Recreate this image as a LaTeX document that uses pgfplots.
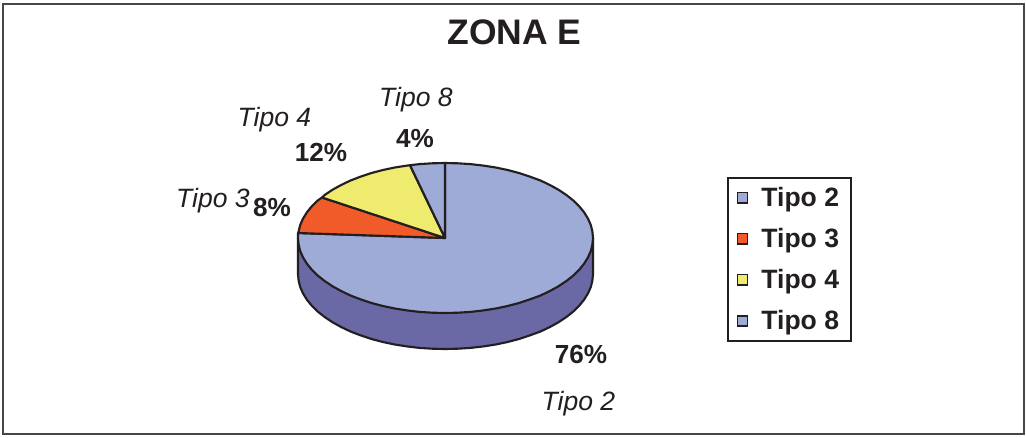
\documentclass[border=0pt]{standalone}
\usepackage{pgfplots}
\pgfplotsset{compat=1.18}
\usepackage{fontspec}
\setmainfont{Liberation Sans}
\definecolor{ink}{HTML}{231F20}
\definecolor{pblue}{HTML}{9DABD6}
\definecolor{pside}{HTML}{6A69A6}
\definecolor{porange}{HTML}{F15A29}
\definecolor{pyellow}{HTML}{EEEB6F}
\begin{document}
\begin{tikzpicture}
\begin{axis}[
  scale only axis, width=769.5pt, height=327.75pt,
  xmin=0, xmax=1026, ymin=0, ymax=437, y dir=reverse,
  axis lines=none, clip=false,
  legend style={at={(axis cs:727,176.5)}, anchor=north west, draw=ink, line width=1.5pt,
    font=\fontsize{19.9pt}{22pt}\selectfont\bfseries, text=ink, legend cell align=left,
    row sep=10.9pt, inner xsep=7pt, inner ysep=5.2pt, fill=white,
    /tikz/every odd column/.append style={column sep=8.25pt}},
]
% background and frame
\addplot[draw=none, fill=white, forget plot] coordinates {(0,0)(1026,0)(1026,437)(0,437)} --cycle;
\addplot[draw=black!72, line width=1.9pt, forget plot] coordinates {(3,4)(1024,4)(1024,434)(3,434)} --cycle;
% side wall
\addplot[draw=ink, fill=pside, line width=1.6pt, line join=round, forget plot] coordinates {
(593,238)(593,274)(592.4,280.5)(590.8,287)(588,293.4)(584.1,299.7)(579.2,305.7)(573.3,311.5)(566.4,317)(558.6,322.2)(549.9,327)(540.5,331.5)(529.8,335.4)(519,339)(507.6,342)(495.8,344.5)(483.5,346.4)(470.5,347.9)(457.8,348.7)(445,349)
(432.2,348.7)(419.5,347.9)(407,346.4)(394.7,344.5)(382.9,342)(371.5,339)(360.7,335.4)(350.5,331.5)(341.1,327)(332.4,322.2)(324.6,317)(317.7,311.5)(311.8,305.7)(306.9,299.7)(303,293.4)(300.2,287)(298.6,280.5)(298,274)(298,238)
} --cycle;
% Tipo 2, 76 %
\addplot[draw=ink, fill=pblue, line width=1.6pt, line join=round, forget plot] coordinates {
(445,238)(445,163)(457.8,163.3)(470.5,164.1)(483.5,165.6)(495.8,167.5)(507.6,170)(519,173)(529.8,176.6)(540.5,180.5)(549.9,185)(558.6,189.8)(566.4,195)(573.3,200.5)(579.2,206.3)(584.1,212.3)(588,218.6)(590.8,225)(592.4,231.5)(593,238)
(592.4,244.5)(590.8,251)(588,257.4)(584.1,263.7)(579.2,269.7)(573.3,275.5)(566.4,281)(558.6,286.2)(549.9,291)(540.5,295.5)(529.8,299.4)(519,303)(507.6,306)(495.8,308.5)(483.5,310.4)(470.5,311.9)(457.8,312.7)(445,313)
(432.2,312.7)(419.5,311.9)(407,310.4)(394.7,308.5)(382.9,306)(371.5,303)(360.7,299.4)(350.5,295.5)(341.1,291)(332.4,286.2)(324.6,281)(317.7,275.5)(311.8,269.7)(306.9,263.7)(303,257.4)(300.2,251)(298.6,244.5)(298,238)(298,233)
} --cycle;
% Tipo 3, 8 %
\addplot[draw=ink, fill=porange, line width=1.6pt, line join=round, forget plot] coordinates {
(445,238)(298,233)(298.6,231.5)(300.2,225)(303,218.6)(306.9,212.3)(311.8,206.3)(317.7,200.5)(322,197.5)
} --cycle;
% Tipo 4, 12 %
\addplot[draw=ink, fill=pyellow, line width=1.6pt, line join=round, forget plot] coordinates {
(445,238)(322,197.5)(324.6,195)(332.4,189.8)(341.1,185)(350.5,180.5)(360.7,176.6)(371.5,173)(382.9,170)(394.7,167.5)(407,165.6)(410,165.2)
} --cycle;
% Tipo 8, 4 %
\addplot[draw=ink, fill=pblue, line width=1.6pt, line join=round, forget plot] coordinates {
(445,238)(410,165.2)(419.5,164.1)(432.2,163.3)(445,163)
} --cycle;
% legend
\addlegendimage{only marks, mark=square*, mark size=3.9pt, mark options={fill=pblue, draw=ink, line width=1.1pt, xshift=3.2pt}}
\addlegendentry{Tipo 2}
\addlegendimage{only marks, mark=square*, mark size=3.9pt, mark options={fill=porange, draw=ink, line width=1.1pt, xshift=3.2pt}}
\addlegendentry{Tipo 3}
\addlegendimage{only marks, mark=square*, mark size=3.9pt, mark options={fill=pyellow, draw=ink, line width=1.1pt, xshift=3.2pt}}
\addlegendentry{Tipo 4}
\addlegendimage{only marks, mark=square*, mark size=3.9pt, mark options={fill=pblue, draw=ink, line width=1.1pt, xshift=3.2pt}}
\addlegendentry{Tipo 8}
% texts
\node[text=ink, font=\fontsize{26.6pt}{30pt}\selectfont\bfseries] at (axis cs:514.5,32.5) {ZONA E};
\node[text=ink, font=\fontsize{19.9pt}{22pt}\selectfont\itshape] at (axis cs:416,99.5) {Tipo 8};
\node[text=ink, font=\fontsize{19.9pt}{22pt}\selectfont\itshape] at (axis cs:274.5,119.5) {Tipo 4};
\node[text=ink, font=\fontsize{19.9pt}{22pt}\selectfont\itshape] at (axis cs:213,200.5) {Tipo 3};
\node[text=ink, font=\fontsize{19.9pt}{22pt}\selectfont\itshape] at (axis cs:578.5,403.5) {Tipo 2};
\node[text=ink, font=\fontsize{19.6pt}{22pt}\selectfont\bfseries] at (axis cs:415,139) {4\%};
\node[text=ink, font=\fontsize{19.6pt}{22pt}\selectfont\bfseries] at (axis cs:321,152) {12\%};
\node[text=ink, font=\fontsize{19.6pt}{22pt}\selectfont\bfseries] at (axis cs:272,207) {8\%};
\node[text=ink, font=\fontsize{19.6pt}{22pt}\selectfont\bfseries] at (axis cs:581,354) {76\%};
\end{axis}
\path[use as bounding box] (0,0) rectangle (769.5pt,327.75pt);
\end{tikzpicture}
\end{document}
